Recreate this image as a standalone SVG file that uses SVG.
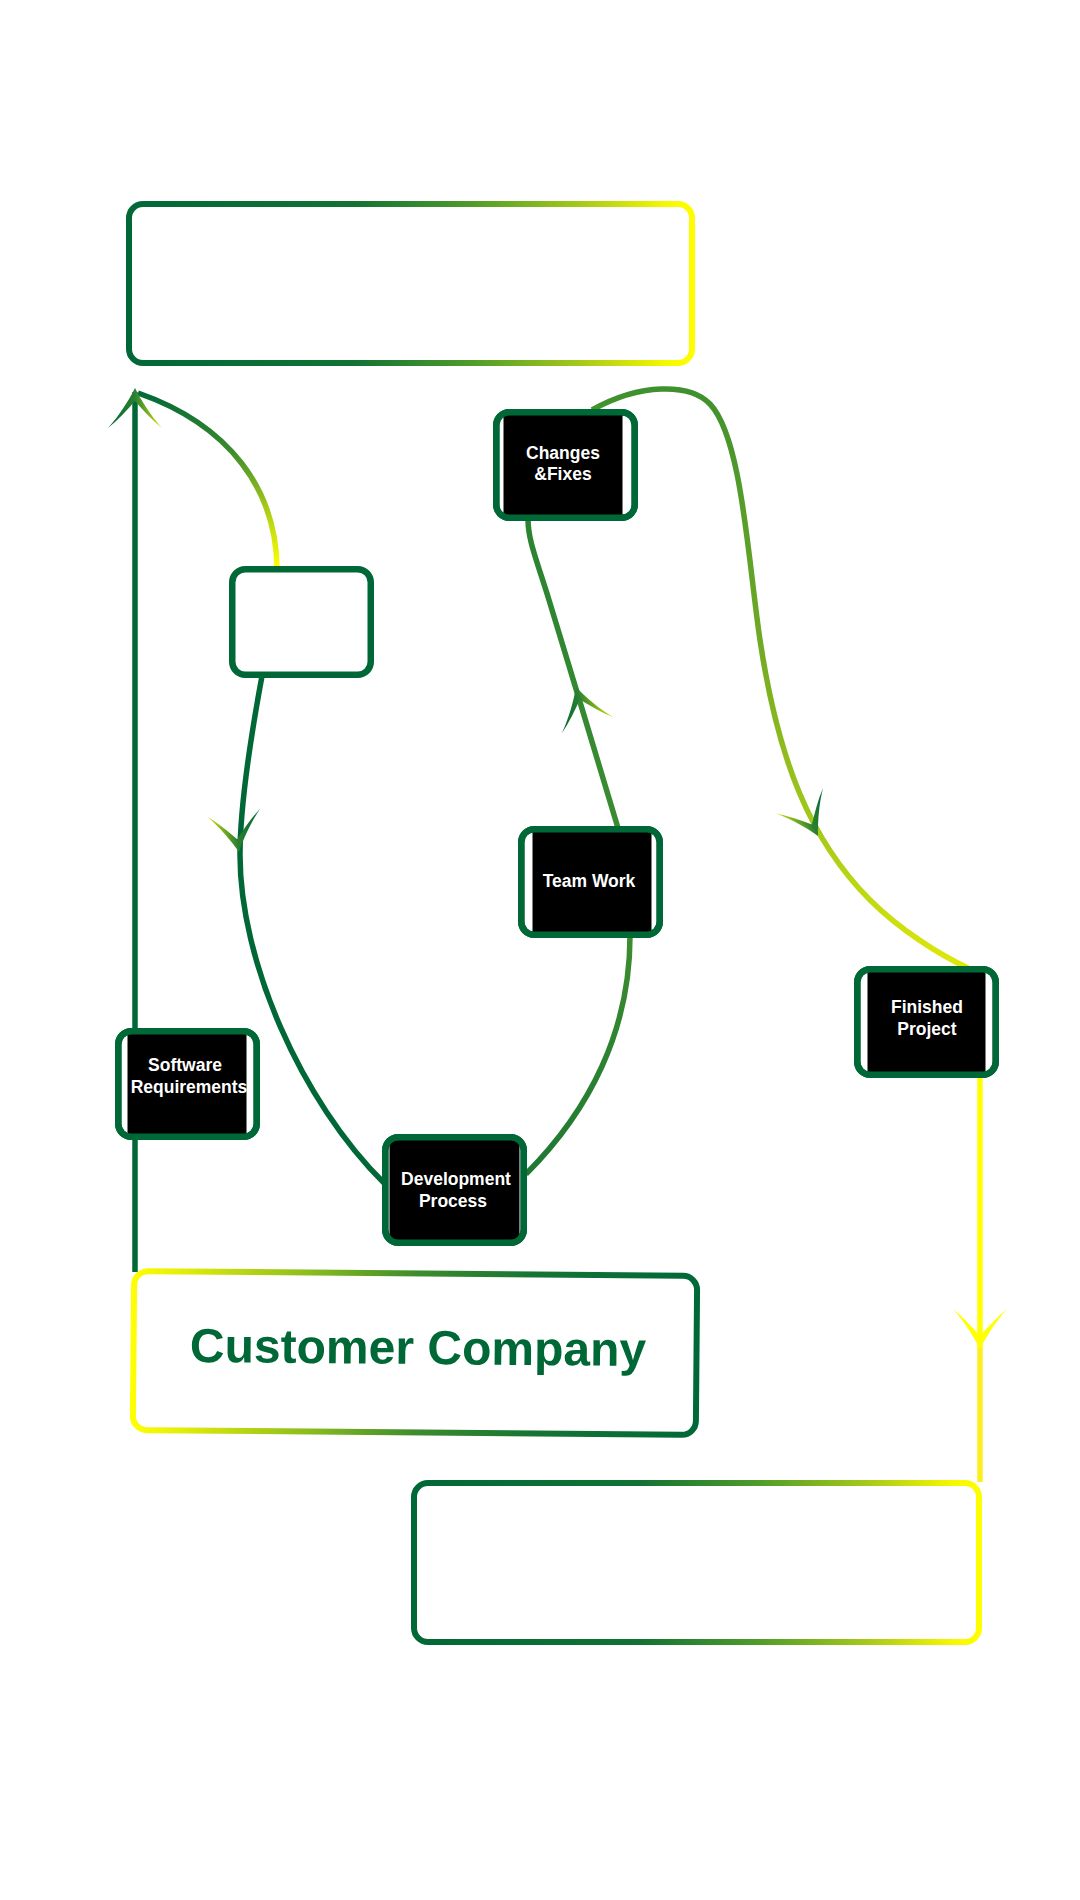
<svg xmlns="http://www.w3.org/2000/svg" xmlns:xlink="http://www.w3.org/1999/xlink" width="1080" height="1900" viewBox="0 0 1080 1900">
<style>
.bigbox{fill:none;stroke-width:6;}
.nb{fill:#fff;stroke:#006837;stroke-width:6.5;}
.ns{fill:none;stroke:#006837;stroke-width:6.5;}
.nk{fill:#000;}
.nt{font-family:"Liberation Sans",Arial,sans-serif;font-weight:bold;font-size:17.5px;fill:#fff;text-anchor:middle;}
.con{fill:none;stroke-width:5.5;stroke-linecap:butt;}
.ct{font-family:"Liberation Sans",Arial,sans-serif;font-weight:bold;font-size:48px;fill:#006837;text-anchor:middle;}
</style>
<defs>
<linearGradient id="gTop" gradientUnits="userSpaceOnUse" x1="126" y1="0" x2="695" y2="0">
<stop offset="0" stop-color="#006837"/><stop offset="0.4" stop-color="#127234"/><stop offset="0.6" stop-color="#4c9a2a"/><stop offset="0.8" stop-color="#a6c91a"/><stop offset="0.95" stop-color="#f7f700"/><stop offset="1" stop-color="#ffff00"/>
</linearGradient>
<linearGradient id="gBot" gradientUnits="userSpaceOnUse" x1="411" y1="0" x2="982" y2="0">
<stop offset="0" stop-color="#006837"/><stop offset="0.4" stop-color="#127234"/><stop offset="0.6" stop-color="#4c9a2a"/><stop offset="0.8" stop-color="#a6c91a"/><stop offset="0.95" stop-color="#f7f700"/><stop offset="1" stop-color="#ffff00"/>
</linearGradient>
<linearGradient id="gCust" gradientUnits="userSpaceOnUse" x1="131" y1="0" x2="700" y2="0">
<stop offset="0" stop-color="#ffff00"/><stop offset="0.08" stop-color="#e6ef08"/><stop offset="0.3" stop-color="#8fbf1c"/><stop offset="0.5" stop-color="#3e8c2d"/><stop offset="0.7" stop-color="#167534"/><stop offset="1" stop-color="#006837"/>
</linearGradient>
<linearGradient id="gC1" gradientUnits="userSpaceOnUse" x1="0" y1="566" x2="0" y2="392">
<stop offset="0" stop-color="#ffff00"/><stop offset="0.3" stop-color="#b0d016"/><stop offset="0.65" stop-color="#3e8d2d"/><stop offset="1" stop-color="#006837"/>
</linearGradient>
<linearGradient id="gC5" gradientUnits="userSpaceOnUse" x1="0" y1="390" x2="0" y2="966">
<stop offset="0" stop-color="#3f912e"/><stop offset="0.45" stop-color="#72aa23"/><stop offset="0.78" stop-color="#a8cb18"/><stop offset="1" stop-color="#dfe90a"/>
</linearGradient>
<linearGradient id="gDT" gradientUnits="userSpaceOnUse" x1="0" y1="1180" x2="0" y2="935">
<stop offset="0" stop-color="#1d7833"/><stop offset="1" stop-color="#3d8d2e"/>
</linearGradient>
<linearGradient id="gTC" gradientUnits="userSpaceOnUse" x1="0" y1="826" x2="0" y2="520">
<stop offset="0" stop-color="#3a8c2f"/><stop offset="1" stop-color="#2a8332"/>
</linearGradient>
<linearGradient id="gArrow" x1="0" y1="0" x2="1" y2="0">
<stop offset="0" stop-color="#006837"/><stop offset="0.5" stop-color="#2a8031"/><stop offset="1" stop-color="#d4e40c"/>
</linearGradient>
<path id="ah" d="M0,0 C-6,12 -16,28 -27,40 C-17,32 -8,22 0,13 C8,22 17,32 27,40 C16,28 6,12 0,0 Z"/>
</defs>
<rect width="1080" height="1900" fill="#fff"/>

<g id="connectors">
<path class="con" stroke="#006837" d="M135,1272 L135,392"/>
<path class="con" stroke="url(#gC1)" d="M277,568 C276,490 230,425 138,393"/>
<path class="con" stroke="#006837" d="M262,676 C252,730 240,800 240,855 C240,960 300,1100 385,1184"/>
<path class="con" stroke="url(#gDT)" d="M526,1174 C590,1110 630,1030 630,936"/>
<path class="con" stroke="url(#gTC)" d="M618,828 C598,760 570,670 549,600 C536,558 528,540 528,519"/>
<path class="con" stroke="url(#gC5)" d="M592,410 C640,383 690,383 710,404 C742,438 748,560 760,640 C778,760 810,840 870,900 C900,930 940,955 968,968"/>
<path class="con" stroke="#ffff00" d="M980,1076 L980,1348"/>
<path class="con" stroke="#fdee22" d="M980,1348 L980,1482"/>
<use xlink:href="#ah" fill="url(#gArrow)" transform="translate(135,388)"/>
<use xlink:href="#ah" fill="url(#gArrow)" transform="translate(239,852) rotate(172)"/>
<use xlink:href="#ah" fill="url(#gArrow)" transform="translate(576,687) rotate(-17)"/>
<use xlink:href="#ah" fill="url(#gArrow)" transform="translate(818,836) rotate(152)"/>
<use xlink:href="#ah" fill="#ffff00" transform="translate(980,1349) rotate(180)"/>
</g>

<g id="top-box">
<rect class="bigbox" stroke="url(#gTop)" x="129" y="204" width="563" height="159" rx="14"/>
</g>

<g id="bottom-box">
<rect class="bigbox" stroke="url(#gBot)" x="414" y="1483" width="565" height="159" rx="14"/>
</g>

<g id="customer-company" transform="rotate(0.5 415 1353)">
<rect class="bigbox" stroke="url(#gCust)" x="133.5" y="1273.5" width="563" height="159" rx="14"/>
<text class="ct" x="418" y="1364">Customer Company</text>
</g>

<g id="empty-node">
<rect class="nb" x="232.25" y="569.25" width="138.5" height="105.5" rx="13"/>
</g>

<g id="changes-fixes">
<rect class="nb" x="496.25" y="412.25" width="138.5" height="105.5" rx="13"/>
<rect class="nk" x="503.5" y="415" width="119" height="100"/>
<rect class="ns" x="496.25" y="412.25" width="138.5" height="105.5" rx="13"/>
<text class="nt" x="563" y="459">Changes</text>
<text class="nt" x="563" y="480">&amp;Fixes</text>
</g>

<g id="team-work">
<rect class="nb" x="521.25" y="829.25" width="138.5" height="105.5" rx="13"/>
<rect class="nk" x="532.5" y="832" width="119" height="100"/>
<rect class="ns" x="521.25" y="829.25" width="138.5" height="105.5" rx="13"/>
<text class="nt" x="589" y="887">Team Work</text>
</g>

<g id="development-process">
<rect class="nb" x="385.25" y="1137.25" width="138.5" height="105.5" rx="13"/>
<rect class="nk" x="389.5" y="1140" width="130" height="100"/>
<rect class="ns" x="385.25" y="1137.25" width="138.5" height="105.5" rx="13"/>
<text class="nt" x="456" y="1185">Development</text>
<text class="nt" x="453" y="1207">Process</text>
</g>

<g id="software-requirements">
<rect class="nb" x="118.25" y="1031.25" width="138.5" height="105.5" rx="13"/>
<rect class="nk" x="127.5" y="1034" width="119" height="100"/>
<rect class="ns" x="118.25" y="1031.25" width="138.5" height="105.5" rx="13"/>
<text class="nt" x="185" y="1071">Software</text>
<text class="nt" x="189" y="1093">Requirements</text>
</g>

<g id="finished-project">
<rect class="nb" x="857.25" y="969.25" width="138.5" height="105.5" rx="13"/>
<rect class="nk" x="867.5" y="972" width="118" height="100"/>
<rect class="ns" x="857.25" y="969.25" width="138.5" height="105.5" rx="13"/>
<text class="nt" x="927" y="1013">Finished</text>
<text class="nt" x="927" y="1035">Project</text>
</g>
</svg>
